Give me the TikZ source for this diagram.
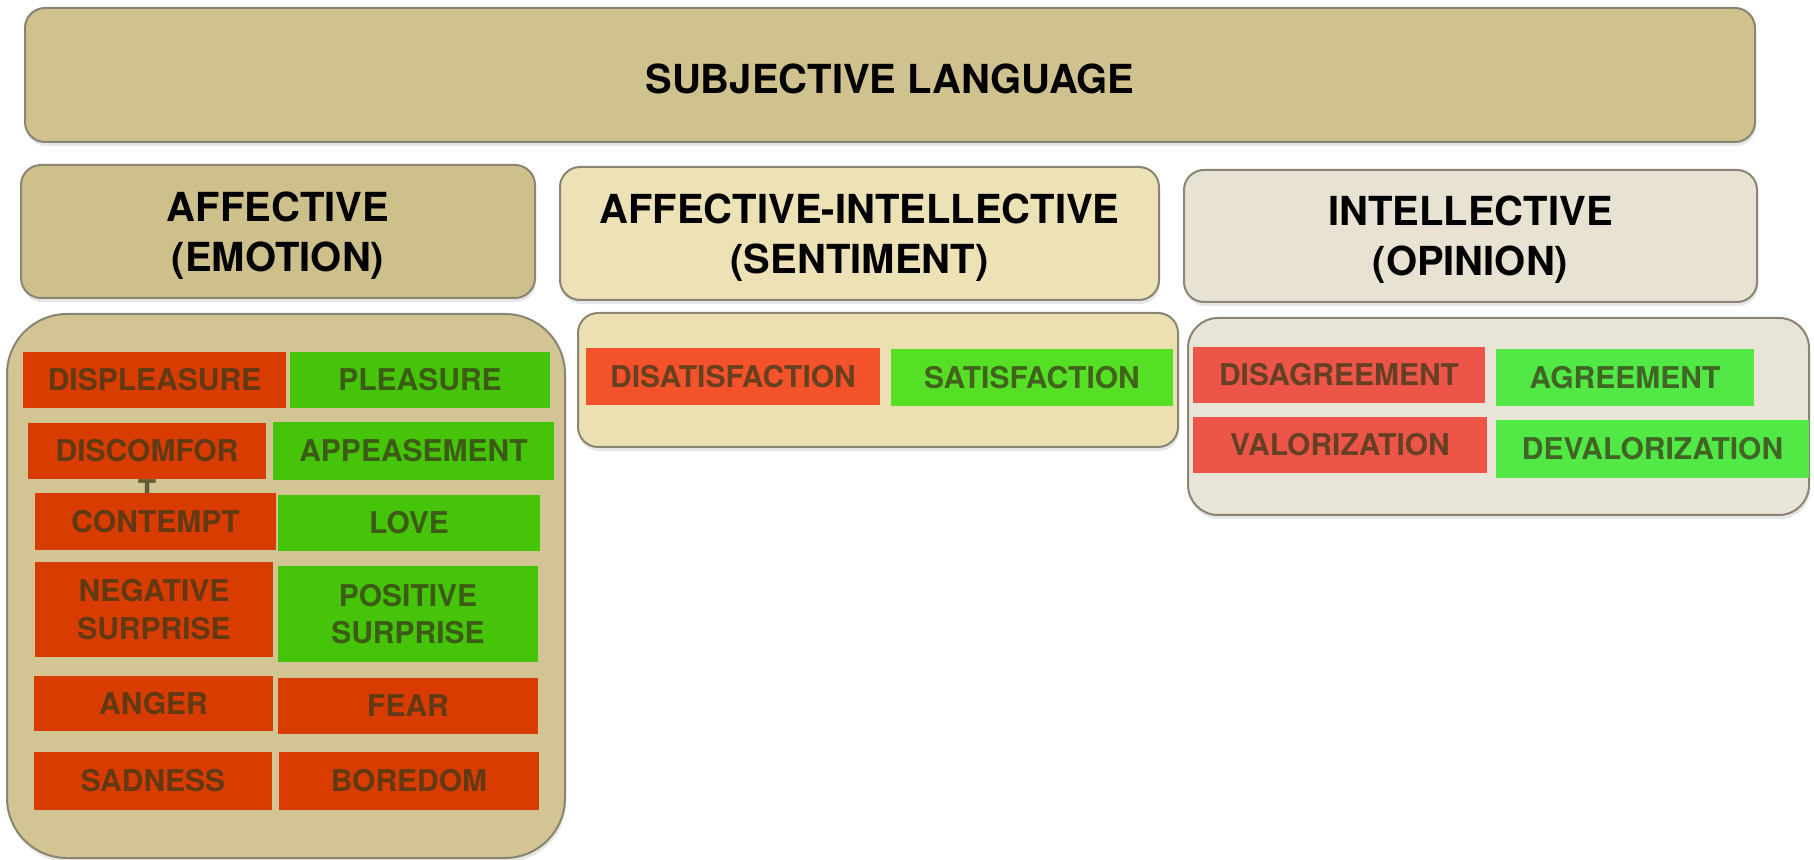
\documentclass[tikz,border=0pt]{standalone}
\usepackage{fontspec}
\setmainfont{TeX Gyre Heros}
\usetikzlibrary{shadows}
\definecolor{rim}{HTML}{8A8472}
\definecolor{ink}{HTML}{3A3A1A}
\definecolor{tanTop}{HTML}{CFC28E}
\definecolor{tanAff}{HTML}{CEC08B}
\definecolor{tanAffBody}{HTML}{D2C593}
\definecolor{creamHead}{HTML}{EDE1B6}
\definecolor{creamBody}{HTML}{ECE0B3}
\definecolor{greyHead}{HTML}{E8E2D3}
\definecolor{greyBody}{HTML}{E9E4D8}
\definecolor{redAff}{HTML}{D83C00}
\definecolor{greenAff}{HTML}{45C40A}
\definecolor{redSent}{HTML}{F4522A}
\definecolor{greenSent}{HTML}{56E025}
\definecolor{redOpin}{HTML}{EC5548}
\definecolor{greenOpin}{HTML}{52E845}
\tikzset{wh/.style 2 args={minimum width=#1pt,minimum height=#2pt}}

\begin{document}
\begin{tikzpicture}
[x=0.5pt,y=-0.5pt,
 panel/.style={draw=rim,line width=1pt,inner sep=0pt,
   drop shadow={shadow xshift=0.5pt,shadow yshift=-2pt,opacity=.2}},
 head/.style={panel,rounded corners=10pt},
 headtext/.style={inner sep=0pt,align=center,yshift=-2pt,
   font=\fontsize{20}{25}\selectfont\bfseries},
 item/.style={inner sep=0pt,align=center,text=ink,text opacity=.75,
   font=\fontsize{15}{18.75}\selectfont\bfseries}]
\useasboundingbox (0,0) rectangle (1814,860);

% headings
\node[head,fill=tanTop,wh={865}{67},
  label={[headtext]center:SUBJECTIVE LANGUAGE}] (lang) at (890,75) {};
\node[head,fill=tanAff,wh={257}{66.5},
  label={[headtext]center:{AFFECTIVE\\(EMOTION)}}] (affect) at (278,231.5) {};
\node[head,fill=creamHead,wh={299.5}{66.5},
  label={[headtext]center:{AFFECTIVE-INTELLECTIVE\\(SENTIMENT)}}] (sentim) at (859.5,233.5) {};
\node[head,fill=greyHead,wh={286.5}{66},
  label={[headtext]center:{INTELLECTIVE\\(OPINION)}}] (opinion) at (1470.5,236) {};

% bodies
\node[panel,rounded corners=30pt,fill=tanAffBody,wh={279}{272}] (affbody) at (286,586) {};
\node[panel,rounded corners=10pt,fill=creamBody,wh={300}{67}] (sentbody) at (878,380) {};
\node[panel,rounded corners=15pt,fill=greyBody,wh={310.5}{98.5}] (opinbody) at (1498.5,416.5) {};

% emotions
\node[item,fill=redAff,wh={131.5}{28}] (displeasure) at (154.5,380) {DISPLEASURE};
\node[item,fill=greenAff,wh={130}{28}] (pleasure) at (420,380) {PLEASURE};
\node[item,fill=redAff,wh={119}{28},
  label={[item,label distance=0pt]below:T}] (discomfort) at (147,451) {DISCOMFOR};
\node[item,fill=greenAff,wh={140.5}{29}] (appeasement) at (413.5,451) {APPEASEMENT};
\node[item,fill=redAff,wh={120.5}{28.5}] (contempt) at (155.5,521.5) {CONTEMPT};
\node[item,fill=greenAff,wh={131}{28}] (love) at (409,523) {LOVE};
\node[item,fill=redAff,wh={119}{47.5}] (negsurprise) at (154,609.5) {NEGATIVE\\SURPRISE};
\node[item,fill=greenAff,wh={130}{48}] (possurprise) at (408,614) {POSITIVE\\SURPRISE};
\node[item,fill=redAff,wh={119.5}{27.5}] (anger) at (153.5,703.5) {ANGER};
\node[item,fill=redAff,wh={130}{28}] (fear) at (408,706) {FEAR};
\node[item,fill=redAff,wh={119}{29}] (sadness) at (153,781) {SADNESS};
\node[item,fill=redAff,wh={130}{29}] (boredom) at (409,781) {BOREDOM};

% sentiments
\node[item,fill=redSent,wh={147}{28.5}] (dissatisf) at (733,376.5) {DISATISFACTION};
\node[item,fill=greenSent,wh={141}{28.5}] (satisf) at (1032,377.5) {SATISFACTION};

% opinions
\node[item,fill=redOpin,wh={146}{28}] (disagree) at (1339,375) {DISAGREEMENT};
\node[item,fill=greenOpin,wh={129}{28.5}] (agree) at (1625,377.5) {AGREEMENT};
\node[item,fill=redOpin,wh={147}{28}] (valor) at (1340,445) {VALORIZATION};
\node[item,fill=greenOpin,wh={156.5}{29}] (devalor) at (1652.5,449) {DEVALORIZATION};
\end{tikzpicture}
\end{document}
